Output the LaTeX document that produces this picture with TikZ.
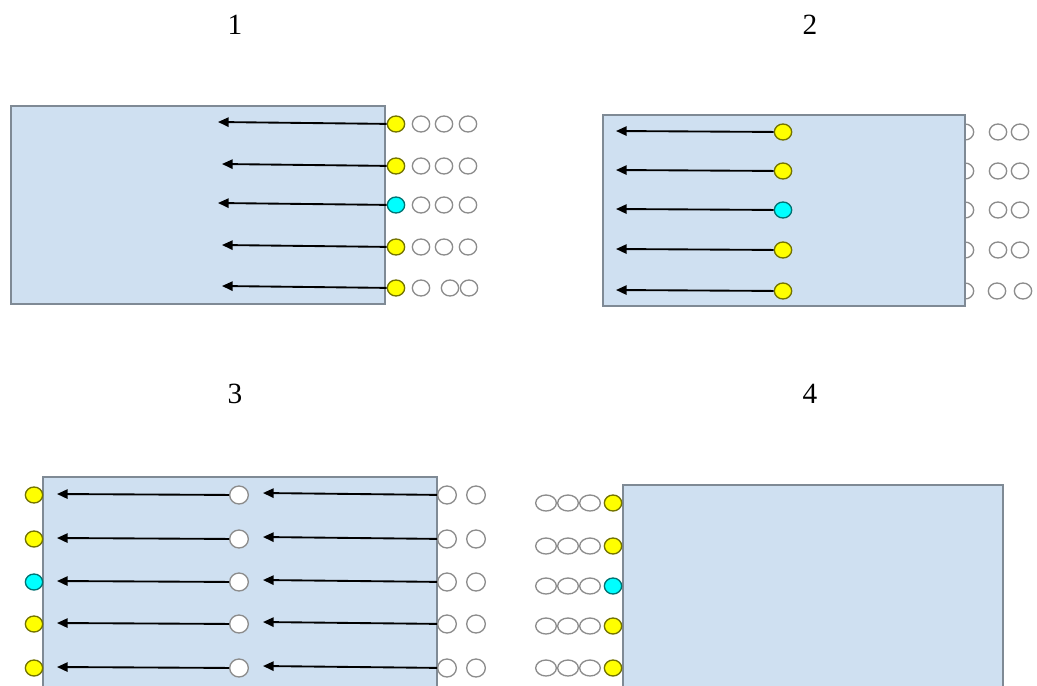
\documentclass[tikz,border=0pt]{standalone}
\usepackage{fontspec}
\setmainfont{Liberation Serif}
\usepackage{tikz}
\usetikzlibrary{positioning,calc,arrows.meta,shapes.geometric}

\definecolor{boxblue}{HTML}{CFE0F1}
\definecolor{boxline}{HTML}{7F8A95}
\definecolor{dotline}{HTML}{8C8C8C}
\definecolor{dotyellow}{HTML}{FFFF00}
\definecolor{dotcyan}{HTML}{00FFFF}

\begin{document}
\begin{tikzpicture}[x=0.75pt,y=-0.75pt]
            \tikzstyle{panel}=[fill=boxblue, draw=boxline, line width=1pt]
            \tikzstyle{dot}=[ellipse, inner sep=0pt, minimum width=13pt, minimum height=12pt, line width=1pt]
            \tikzstyle{full}=[dot, fill=dotyellow, draw=black!55!dotyellow]
            \tikzstyle{fullc}=[dot, fill=dotcyan, draw=black!55!dotcyan]
            \tikzstyle{empty}=[dot, fill=white, draw=dotline]
            \tikzstyle{hole}=[dot, draw=dotline]
            \tikzstyle{flow}=[line width=1.4pt, -{Triangle[length=8pt,width=7pt]}]
            \tikzstyle{step label}=[font=\fontsize{22}{24}\selectfont]

            \useasboundingbox (0,0) rectangle (1037,685);

            % step numbers
            \node[step label] (n1) at (235,25) {1};
            \node[step label] (n2) at (810,25) {2};
            \node[step label] (n3) at (235,394) {3};
            \node[step label] (n4) at (810,394) {4};

            % 1
            \draw[panel] (11,106) rectangle (385,304);
            \foreach \i/\y/\c/\t in {1/124/full/218, 2/166/full/222, 3/205/fullc/218, 4/247/full/222, 5/288/full/222}
            {
                \node[\c] (a\i) at (396,\y) {};
                \node[hole] (a\i b) at (421,\y) {};
                \coordinate (a\i t) at (\t,\y-2);
                \draw[flow] (a\i) -- (a\i t);
            }
            \foreach \i/\y in {1/124, 2/166, 3/205, 4/247}
            {
                \node[hole] (a\i c) at (444,\y) {};
                \node[hole] (a\i d) at (468,\y) {};
            }
            \node[hole] (a5c) at (450,288) {};
            \node[hole] (a5d) at (469,288) {};

            % 2
            \foreach \i/\y/\s in {1/132/998, 2/171/998, 3/210/998, 4/250/998, 5/291/997}
            {
                \node[hole] (b\i b) at (965,\y) {};
                \node[hole] (b\i c) at (\s,\y) {};
            }
            \node[hole] (b1d) at (1020,132) {};
            \node[hole] (b2d) at (1020,171) {};
            \node[hole] (b3d) at (1020,210) {};
            \node[hole] (b4d) at (1020,250) {};
            \node[hole] (b5d) at (1023,291) {};
            \draw[panel] (603,115) rectangle (965,306);
            \foreach \i/\y/\c in {1/132/full, 2/171/full, 3/210/fullc, 4/250/full, 5/291/full}
            {
                \node[\c] (b\i) at (783,\y) {};
                \coordinate (b\i t) at (616,\y-1);
                \draw[flow] (b\i) -- (b\i t);
            }

            % 3
            \draw[panel] (43,477) rectangle (437,690);
            \foreach \i/\y/\c in {1/495/full, 2/539/full, 3/582/fullc, 4/624/full, 5/668/full}
            {
                \node[\c] (c\i) at (34,\y) {};
                \node[empty, minimum width=14pt, minimum height=13.5pt] (c\i m) at (239,\y) {};
                \node[hole, minimum width=14pt, minimum height=13.5pt] (c\i r) at (447,\y) {};
                \node[hole, minimum width=14pt, minimum height=13.5pt] (c\i s) at (476,\y) {};
                \coordinate (c\i t) at (57,\y-1);
                \coordinate (c\i u) at (263,\y-2);
                \draw[flow] (c\i m) -- (c\i t);
                \draw[flow] (c\i r) -- (c\i u);
            }

            % 4
            \draw[panel] (623,485) rectangle (1003,690);
            \foreach \i/\y/\c in {1/503/full, 2/546/full, 3/586/fullc, 4/626/full, 5/668/full}
            {
                \node[hole, minimum width=15.5pt] (d\i a) at (546,\y) {};
                \node[hole, minimum width=15.5pt] (d\i b) at (568,\y) {};
                \node[hole, minimum width=15.5pt] (d\i c) at (590,\y) {};
                \node[\c] (d\i) at (613,\y) {};
            }
        \end{tikzpicture}
\end{document}
